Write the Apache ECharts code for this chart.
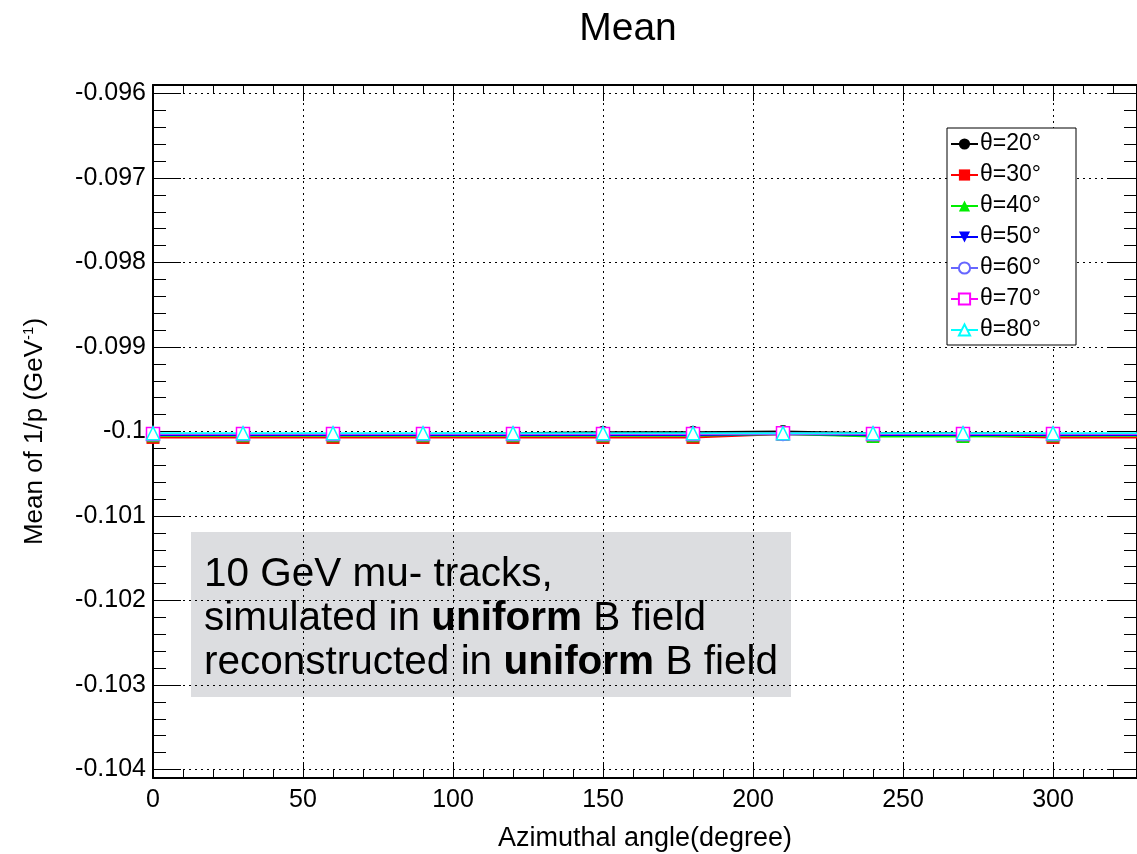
<!DOCTYPE html>
<html style="height: 100%">
<head>
<meta charset="utf-8">
<script type="text/javascript" src="https://cdn.jsdelivr.net/npm/echarts@6/dist/echarts.min.js"></script>
</head>
<body style="height: 100%; margin: 0; background: #fff">
<div id="container" style="width: 1137px; height: 854px"></div>
<script type="text/javascript">
// azimuthal angle (degree)
var angles = [0, 30, 60, 90, 120, 150, 180, 210, 240, 270, 300, 330];
// mean of 1/p per theta
var theta20 = [-0.10003, -0.10003, -0.10003, -0.10003, -0.10002, -0.10001, -0.10001, -0.10000, -0.10002, -0.10002, -0.10003, -0.10003];
var theta30 = [-0.10007, -0.10007, -0.10007, -0.10007, -0.10007, -0.10007, -0.10007, -0.10003, -0.10005, -0.10005, -0.10007, -0.10007];
var theta40 = [-0.10005, -0.10005, -0.10005, -0.10005, -0.10005, -0.10005, -0.10005, -0.10003, -0.10006, -0.10006, -0.10005, -0.10005];
var theta50 = [-0.10004, -0.10004, -0.10004, -0.10004, -0.10004, -0.10004, -0.10004, -0.10003, -0.10004, -0.10004, -0.10004, -0.10004];
var theta60 = [-0.10003, -0.10003, -0.10003, -0.10003, -0.10003, -0.10003, -0.10003, -0.10003, -0.10003, -0.10003, -0.10003, -0.10003];
var theta70 = [-0.10003, -0.10003, -0.10003, -0.10003, -0.10003, -0.10003, -0.10003, -0.10002, -0.10003, -0.10003, -0.10003, -0.10003];
var theta80 = [-0.10002, -0.10002, -0.10002, -0.10002, -0.10002, -0.10002, -0.10002, -0.10002, -0.10002, -0.10002, -0.10002, -0.10002];
var names = ['θ=20°', 'θ=30°', 'θ=40°', 'θ=50°', 'θ=60°', 'θ=70°', 'θ=80°'];

var dom = document.getElementById("container");
var myChart = echarts.init(dom);
var font = 'Liberation Sans, Helvetica, Arial, sans-serif';

function pairs(ys) {
    var out = [];
    for (var i = 0; i < angles.length; i++) out.push([angles[i], ys[i]]);
    return out;
}
function mkSeries(name, ys, color, symbol, hollow, rotate) {
    return {
        name: name,
        type: 'line',
        data: pairs(ys),
        symbol: symbol,
        symbolSize: 13,
        symbolRotate: rotate || 0,
        showAllSymbol: true,
        lineStyle: { color: color, width: 2 },
        itemStyle: hollow ? { color: '#fff', borderColor: color, borderWidth: 1.5 } : { color: color },
        emphasis: { disabled: true },
        animation: false
    };
}

var xCommon = {
    type: 'value', min: 0, max: 328, interval: 50,
    axisLine: { show: true, onZero: false, lineStyle: { color: '#000', width: 2 } },
    axisTick: { show: true, inside: true, length: 16, lineStyle: { color: '#000', width: 1 } },
    minorTick: { show: true, splitNumber: 5, length: 8, lineStyle: { color: '#000', width: 1 } },
    splitLine: { show: false }
};
var yCommon = {
    type: 'value', min: -0.1041, max: -0.0959, splitNumber: 8,
    axisLine: { show: true, onZero: false, lineStyle: { color: '#000', width: 2 } },
    axisTick: { show: true, inside: true, length: 28, lineStyle: { color: '#000', width: 1 } },
    minorTick: { show: true, splitNumber: 5, length: 13, lineStyle: { color: '#000', width: 1 } },
    splitLine: { show: false }
};

option = {
    animation: false,
    title: {
        text: 'Mean', left: 623, top: 5, textAlign: 'center',
        textStyle: { fontFamily: font, fontSize: 39, fontWeight: 'normal', color: '#000' }
    },
    grid: { left: 153, right: 0, top: 85, bottom: 76, outerBoundsMode: 'none' },
    legend: {
        orient: 'vertical', left: 947, top: 128,
        data: names,
        backgroundColor: '#fff', borderColor: '#000', borderWidth: 1,
        padding: [4, 35, 3, 3],
        itemWidth: 27, itemHeight: 14, itemGap: 7,
        textStyle: { fontFamily: font, fontSize: 23, color: '#000', lineHeight: 24, padding: [0, 0, 0, -3] }
    },
    xAxis: [
        Object.assign({}, xCommon, {
            position: 'bottom',
            name: 'Azimuthal angle(degree)', nameLocation: 'middle', nameGap: 47,
            nameTextStyle: { fontFamily: font, fontSize: 27, color: '#000' },
            axisLabel: { show: true, fontFamily: font, fontSize: 25, color: '#000', margin: 10, showMaxLabel: false },
            splitLine: { show: true, lineStyle: { color: '#000', width: 1, type: [2, 4] } }
        }),
        Object.assign({}, xCommon, { position: 'top', axisLabel: { show: false } })
    ],
    yAxis: [
        Object.assign({}, yCommon, {
            position: 'left',
            name: '{n|Mean of 1/p (GeV}{s|-1}{n|)}', nameLocation: 'middle', nameGap: 105,
            nameTextStyle: {
                rich: {
                    n: { fontFamily: font, fontSize: 26, color: '#000' },
                    s: { fontFamily: font, fontSize: 15, color: '#000', verticalAlign: 'top', padding: [0, 0, 12, 0] }
                }
            },
            axisLabel: {
                show: true, fontFamily: font, fontSize: 25, color: '#000', margin: 7,
                showMinLabel: false, showMaxLabel: false,
                formatter: function (v) { return String(+v.toFixed(4)); }
            },
            splitLine: { show: true, lineStyle: { color: '#000', width: 1, type: [2, 4] } }
        }),
        Object.assign({}, yCommon, { position: 'right', axisLabel: { show: false } })
    ],
    graphic: [{
        type: 'group', left: 191, top: 532,
        children: [
            { type: 'rect', shape: { x: 0, y: 0, width: 600, height: 165 }, style: { fill: '#dcdde0' } },
            {
                type: 'text', x: 13, y: 21,
                style: {
                    text: '{r|10 GeV mu- tracks,}\n{r|simulated in }{b|uniform}{r| B field}\n{r|reconstructed in }{b|uniform}{r| B field}',
                    rich: {
                        r: { fontFamily: font, fontSize: 40.5, fill: '#000', lineHeight: 44 },
                        b: { fontFamily: font, fontSize: 40.5, fontWeight: 'bold', fill: '#000', lineHeight: 44 }
                    }
                }
            }
        ]
    }],
    series: [
        mkSeries(names[0], theta20, '#000000', 'circle', false),
        mkSeries(names[1], theta30, '#ff0000', 'rect', false),
        mkSeries(names[2], theta40, '#00ee00', 'triangle', false),
        mkSeries(names[3], theta50, '#0000ff', 'triangle', false, 180),
        mkSeries(names[4], theta60, '#6666ff', 'circle', true),
        mkSeries(names[5], theta70, '#ff00ff', 'rect', true),
        mkSeries(names[6], theta80, '#00ffff', 'triangle', true)
    ]
};
myChart.setOption(option, true);
</script>
</body>
</html>
